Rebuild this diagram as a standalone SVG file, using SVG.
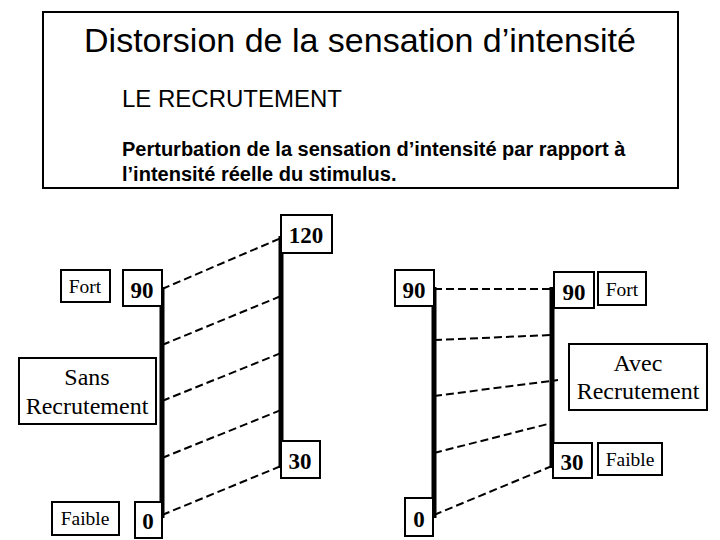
<svg xmlns="http://www.w3.org/2000/svg" width="720" height="540" viewBox="0 0 720 540">
<style>
.b{fill:#fff;stroke:#000;stroke-width:2}
.t{font-family:"Liberation Serif",serif;font-size:19.5px;text-anchor:middle}
.l{font-family:"Liberation Serif",serif;font-size:24px;text-anchor:middle}
.n{font-family:"Liberation Serif",serif;font-size:23px;font-weight:bold;text-anchor:middle}
.s{font-family:"Liberation Sans",sans-serif}
.bar{stroke:#000;stroke-width:5}
.d{stroke:#000;stroke-width:2;stroke-dasharray:8,4;fill:none}
</style>
<rect width="720" height="540" fill="#fff"/>
<g id="header">
<rect x="43" y="12" width="635" height="176" class="b"/>
<text x="360" y="52" class="s" font-size="34" text-anchor="middle">Distorsion de la sensation d’intensité</text>
<text x="122" y="107" class="s" font-size="24">LE RECRUTEMENT</text>
<text x="122" y="156" class="s" font-size="20" font-weight="bold">Perturbation de la sensation d’intensité par rapport à</text>
<text x="122" y="181" class="s" font-size="20" font-weight="bold">l’intensité réelle du stimulus.</text>
</g>
<g id="connectors">
<line x1="162" y1="287" x2="162" y2="518" class="bar"/>
<line x1="281" y1="236" x2="281" y2="468" class="bar"/>
<line x1="434" y1="287" x2="434" y2="518" class="bar"/>
<line x1="552" y1="287" x2="552" y2="468" class="bar"/>
<path class="d" d="M162 289L281 238M162 345L281 296M162 401L281 353M162 458L281 410M162 515L281 466"/>
<path class="d" d="M434 289L552 289M434 340L552 335M434 396L558 380M434 453L548 424M434 515L552 466"/>
</g>
<g id="n120"><rect x="281" y="215" width="51" height="38" class="b"/><text x="306" y="243" class="n">120</text></g>
<g id="n90a"><rect x="123" y="270" width="39" height="36" class="b"/><text x="142" y="298" class="n">90</text></g>
<g id="fortL"><rect x="61" y="270" width="49" height="32" class="b"/><text x="85" y="293" class="t">Fort</text></g>
<g id="sans"><rect x="19" y="358" width="137" height="66" class="b"/><text x="87" y="385" class="l">Sans</text><text x="87" y="414" class="l">Recrutement</text></g>
<g id="n30a"><rect x="281" y="441" width="39" height="37" class="b"/><text x="300" y="469" class="n">30</text></g>
<g id="faibleL"><rect x="52" y="502" width="67" height="33" class="b"/><text x="85" y="525" class="t">Faible</text></g>
<g id="n0a"><rect x="135" y="502" width="27" height="36" class="b"/><text x="148" y="529" class="n">0</text></g>
<g id="n90b"><rect x="395" y="270" width="39" height="36" class="b"/><text x="414" y="298" class="n">90</text></g>
<g id="n90c"><rect x="554" y="272" width="40" height="36" class="b"/><text x="574" y="300" class="n">90</text></g>
<g id="fortR"><rect x="598" y="272" width="48" height="33" class="b"/><text x="622" y="296" class="t">Fort</text></g>
<g id="avec"><rect x="569" y="344" width="138" height="66" class="b"/><text x="638" y="371" class="l">Avec</text><text x="638" y="399" class="l">Recrutement</text></g>
<g id="n30b"><rect x="553" y="443" width="39" height="35" class="b"/><text x="572" y="470" class="n">30</text></g>
<g id="faibleR"><rect x="598" y="443" width="64" height="32" class="b"/><text x="630" y="466" class="t">Faible</text></g>
<g id="n0b"><rect x="405" y="498" width="28" height="38" class="b"/><text x="419" y="527" class="n">0</text></g>
</svg>
